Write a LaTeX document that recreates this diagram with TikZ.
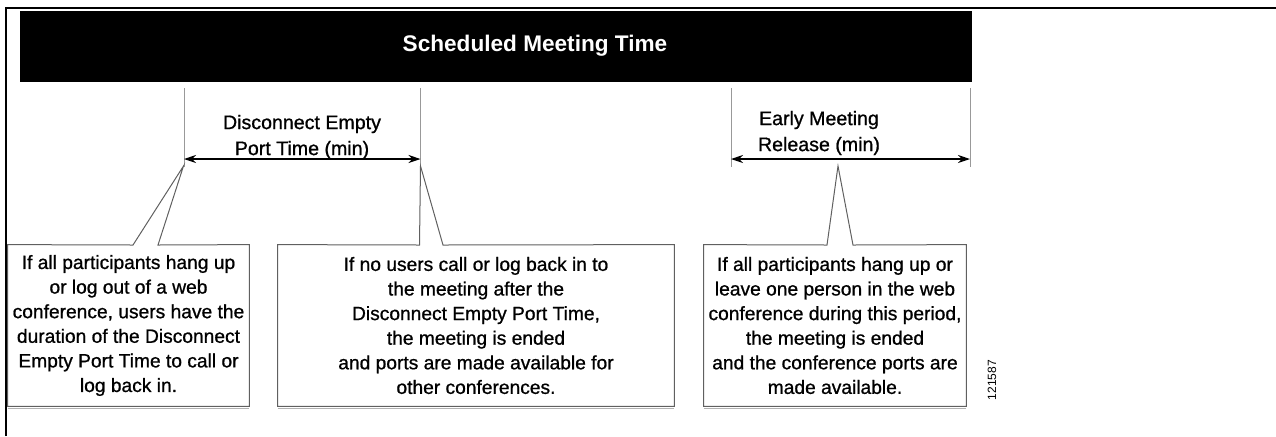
\documentclass[tikz,border=0pt]{standalone}
\usepackage{fontspec}
\setmainfont{Liberation Sans}
\newfontfamily\heavyfont[FakeBold=0.9]{Liberation Sans}
\usetikzlibrary{arrows.meta}
\begin{document}
\begin{tikzpicture}[x=0.5pt,y=-0.5pt,
  frame/.style={line width=1pt,black},
  tick/.style={line width=0.5pt,gray!80},
  dim/.style={line width=0.6pt,{Stealth[length=6pt,width=4pt]}-{Stealth[length=6pt,width=4pt]}},
  callout/.style={line width=0.5pt,gray!75!black},
  boxtext/.style={inner sep=0pt,align=center,font=\heavyfont\fontsize{9.6}{12.3}\selectfont},
  dimlabel/.style={inner sep=0pt,align=center,font=\heavyfont\fontsize{9.8}{13}\selectfont}]
\useasboundingbox (0,0) rectangle (1276,436);
% outer frame (top and left)
\draw[frame] (5.5,436) -- (5.5,7.5) -- (1276,7.5);
% black bar
\node[fill=black,minimum width=952pt*0.5,minimum height=71pt*0.5,inner sep=0pt,anchor=north west] (bar) at (20,11) {};
\node[text=white,font=\bfseries\fontsize{11.3}{13}\selectfont] (title) at (535,46) {Scheduled Meeting Time};
% ticks
\coordinate (t1a) at (184,88); \coordinate (t1b) at (184,167);
\coordinate (t2a) at (420.5,88); \coordinate (t2b) at (420.5,167);
\coordinate (t3a) at (731,88); \coordinate (t3b) at (731,167);
\coordinate (t4a) at (970,88); \coordinate (t4b) at (970,167);
\draw[tick] (t1a) -- (t1b);
\draw[tick] (t2a) -- (t2b);
\draw[tick] (t3a) -- (t3b);
\draw[tick] (t4a) -- (t4b);
\coordinate (a1l) at (184,159); \coordinate (a1r) at (420.5,159);
\coordinate (a2l) at (731,159); \coordinate (a2r) at (970,159);
\draw[dim] (a1l) -- (a1r);
\draw[dim] (a2l) -- (a2r);
\node[dimlabel] (dl1) at (302,137) {Disconnect Empty\\Port Time (min)};
\node[dimlabel] (dl2) at (819,133) {Early Meeting\\Release (min)};
% boxes
\node[boxtext,minimum width=241pt*0.5,minimum height=161pt*0.5] (b1) at (128.5,325.5)
 {If all participants hang up\\or log out of a web\\conference, users have the\\duration of the Disconnect\\Empty Port Time to call or\\log back in.};
\node[boxtext,minimum width=396pt*0.5,minimum height=161pt*0.5] (b2) at (476,325.5)
 {If no users call or log back in to\\the meeting after the\\Disconnect Empty Port Time,\\the meeting is ended\\and ports are made available for\\other conferences.};
\node[boxtext,minimum width=262pt*0.5,minimum height=161pt*0.5] (b3) at (835,325.5)
 {If all participants hang up or\\leave one person in the web\\conference during this period,\\the meeting is ended\\and the conference ports are\\made available.};
% callout outlines
\coordinate (p1) at (183.5,166); \coordinate (p1a) at (133,245); \coordinate (p1b) at (158,245);
\coordinate (p2) at (420.5,166); \coordinate (p2a) at (419.5,245); \coordinate (p2b) at (443,245);
\coordinate (p3) at (838,166); \coordinate (p3a) at (827,245); \coordinate (p3b) at (853,245);
\draw[callout] (b1.north west) -- (p1a) -- (p1) -- (p1b) -- (b1.north east) -- (b1.south east) -- (b1.south west) -- cycle;
\draw[callout] (b2.north west) -- (p2a) -- (p2) -- (p2b) -- (b2.north east) -- (b2.south east) -- (b2.south west) -- cycle;
\draw[callout] (b3.north west) -- (p3a) -- (p3) -- (p3b) -- (b3.north east) -- (b3.south east) -- (b3.south west) -- cycle;
\draw[line width=0.8pt,gray!60] ([yshift=-1pt]b1.south west) -- ([yshift=-1pt]b1.south east);
\draw[line width=0.8pt,gray!60] ([yshift=-1pt]b2.south west) -- ([yshift=-1pt]b2.south east);
\draw[line width=0.8pt,gray!60] ([yshift=-1pt]b3.south west) -- ([yshift=-1pt]b3.south east);
% figure number
\node[rotate=90,inner sep=0pt,font=\fontsize{6}{7}\selectfont] (fig) at (992,380) {121587};
\end{tikzpicture}
\end{document}
